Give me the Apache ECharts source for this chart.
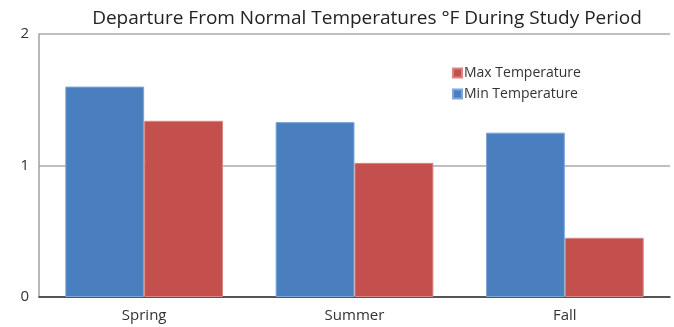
<!DOCTYPE html>
<html>
<head>
<meta charset="utf-8">
<script src="https://cdn.jsdelivr.net/npm/echarts@6/dist/echarts.min.js"></script>
<style>html,body{margin:0;padding:0;background:#fff}#c{width:674px;height:327px}</style>
</head>
<body>
<div id="c"></div>
<script>
const categories = ["Spring", "Summer", "Fall"];
const minTemp = [1.6, 1.33, 1.25];
const maxTemp = [1.34, 1.02, 0.45];
const yTicks = [0, 1, 2];

const chart = echarts.init(document.getElementById('c'), null, {renderer: 'canvas'});
const font = '"Open Sans", "Noto Sans", sans-serif';
chart.setOption({
  animation: false,
  title: {
    text: 'Departure From Normal Temperatures \u00B0F During Study Period',
    left: 362, top: 4, textAlign: 'center',
    textStyle: {fontFamily: font, fontSize: 19, fontWeight: 'normal', color: '#222'}
  },
  legend: {
    orient: 'vertical', left: 447, top: 61, itemGap: 7,
    itemWidth: 9, itemHeight: 9, icon: 'rect',
    data: ['Max Temperature', 'Min Temperature'],
    textStyle: {fontFamily: font, fontSize: 14, color: '#333', padding: [0, 0, 0, -3]}
  },
  grid: {left: 39, right: 4, top: 34, bottom: 30},
  xAxis: {
    type: 'category', data: categories,
    axisLine: {lineStyle: {color: '#333', width: 1.5}},
    axisTick: {show: false},
    axisLabel: {fontFamily: font, fontSize: 15, color: '#333', margin: 11}
  },
  yAxis: {
    type: 'value', min: yTicks[0], max: yTicks[yTicks.length - 1], interval: 1,
    axisLine: {show: true, lineStyle: {color: '#a0a0a0', width: 1.5}},
    axisTick: {show: false},
    splitLine: {lineStyle: {color: '#aaa', width: 1.5}},
    axisLabel: {fontFamily: font, fontSize: 15, color: '#333', margin: 10}
  },
  series: [
    {name: 'Min Temperature', type: 'bar', data: minTemp, barGap: '0%', barCategoryGap: '25%',
     itemStyle: {color: '#4A7FBF', borderColor: '#7FA6D6', borderWidth: 1}},
    {name: 'Max Temperature', type: 'bar', data: maxTemp,
     itemStyle: {color: '#C4504E', borderColor: '#D98583', borderWidth: 1}}
  ]
});
</script>
</body>
</html>
